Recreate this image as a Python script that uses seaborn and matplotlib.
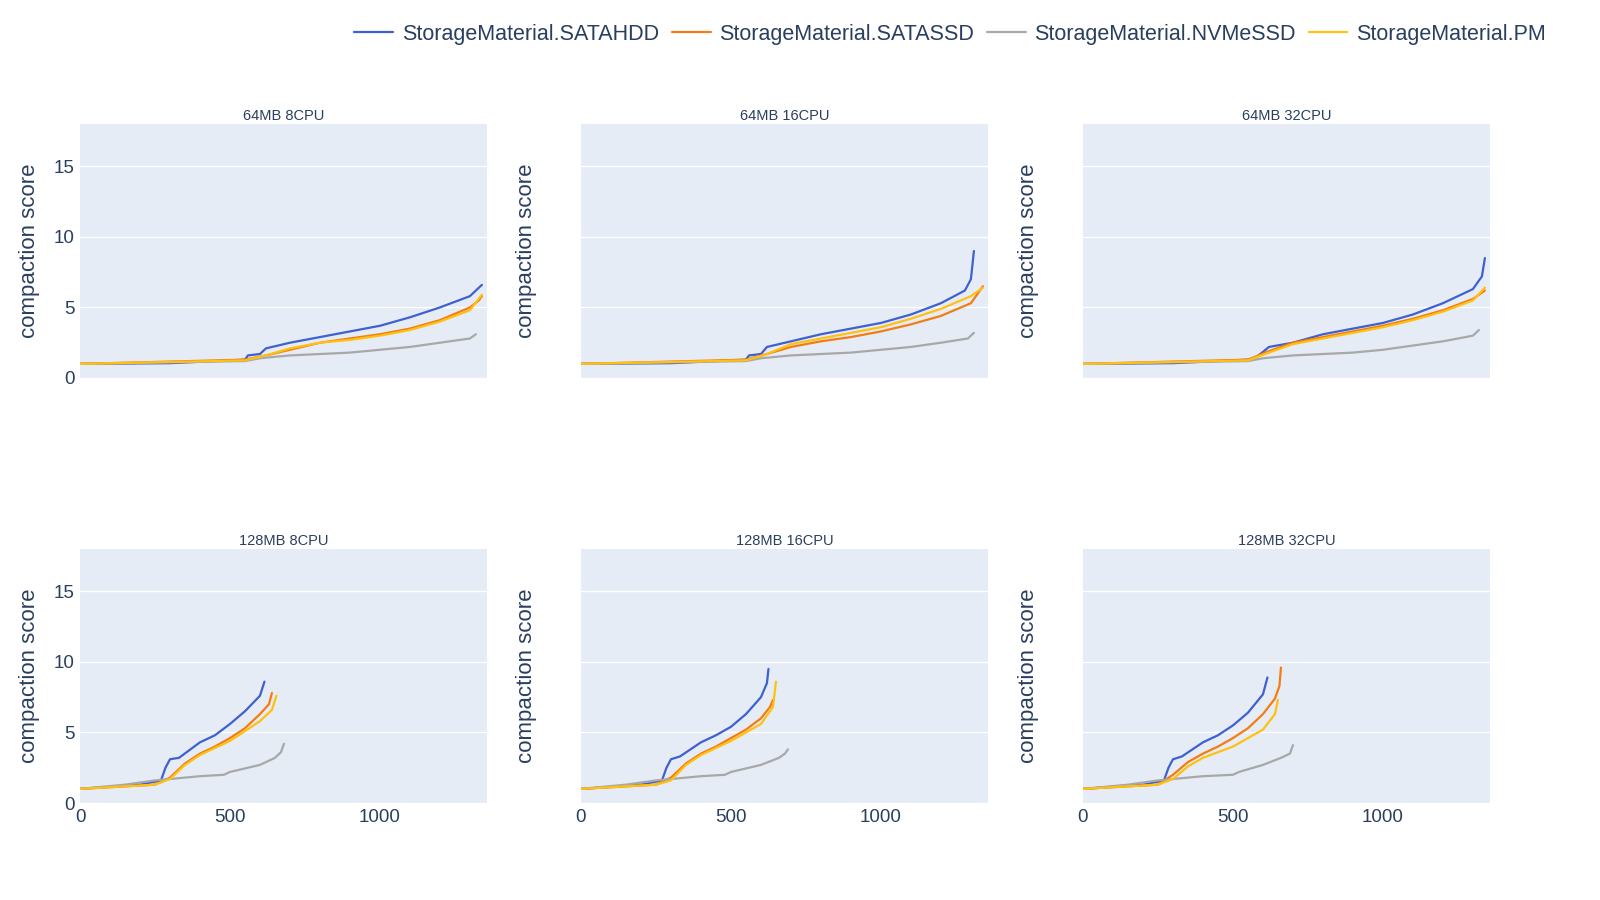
import matplotlib
matplotlib.use("Agg")
import matplotlib.pyplot as plt
import seaborn as sns
import pandas as pd

sns.set_theme(style="darkgrid")
plt.rcParams['font.family'] = ['Liberation Sans', 'DejaVu Sans']

series = ["StorageMaterial.SATAHDD", "StorageMaterial.SATASSD",
          "StorageMaterial.NVMeSSD", "StorageMaterial.PM"]
colors = ["#3f60d0", "#f57c10", "#a8a8a8", "#ffc010"]
panels = ["64MB 8CPU", "64MB 16CPU", "64MB 32CPU",
          "128MB 8CPU", "128MB 16CPU", "128MB 32CPU"]

# estimated (x, y) points of each curve per panel: [HDD, SSD, NVMe, PM]
curves = {
    "64MB 8CPU": [
        [(0,1),(300,1.05),(550,1.3),(560,1.6),(600,1.7),(620,2.1),(700,2.5),(800,2.9),(900,3.3),(1000,3.7),(1100,4.3),(1200,5.0),(1300,5.8),(1340,6.6)],
        [(0,1),(550,1.3),(620,1.6),(700,2.0),(800,2.5),(900,2.8),(1000,3.1),(1100,3.5),(1200,4.1),(1300,5.0),(1330,5.5),(1340,5.8)],
        [(0,1),(550,1.2),(600,1.4),(700,1.6),(900,1.8),(1000,2.0),(1100,2.2),(1200,2.5),(1300,2.8),(1320,3.1)],
        [(0,1),(550,1.25),(620,1.6),(700,2.1),(800,2.5),(900,2.7),(1000,3.0),(1100,3.4),(1200,4.0),(1300,4.8),(1340,5.9)],
    ],
    "64MB 16CPU": [
        [(0,1),(300,1.05),(550,1.3),(560,1.6),(600,1.7),(620,2.2),(700,2.6),(800,3.1),(900,3.5),(1000,3.9),(1100,4.5),(1200,5.3),(1280,6.2),(1300,7.0),(1310,9.0)],
        [(0,1),(550,1.3),(620,1.7),(700,2.2),(800,2.6),(900,2.9),(1000,3.3),(1100,3.8),(1200,4.4),(1300,5.3),(1340,6.5)],
        [(0,1),(550,1.2),(600,1.4),(700,1.6),(900,1.8),(1000,2.0),(1100,2.2),(1200,2.5),(1290,2.8),(1310,3.2)],
        [(0,1),(550,1.25),(620,1.7),(700,2.4),(800,2.8),(900,3.2),(1000,3.6),(1100,4.2),(1200,4.9),(1300,5.8),(1340,6.4)],
    ],
    "64MB 32CPU": [
        [(0,1),(300,1.05),(550,1.3),(580,1.5),(620,2.2),(700,2.5),(800,3.1),(900,3.5),(1000,3.9),(1100,4.5),(1200,5.3),(1300,6.3),(1330,7.2),(1340,8.5)],
        [(0,1),(550,1.3),(620,1.9),(700,2.5),(800,2.9),(900,3.3),(1000,3.7),(1100,4.2),(1200,4.8),(1300,5.6),(1340,6.2)],
        [(0,1),(550,1.2),(600,1.4),(700,1.6),(900,1.8),(1000,2.0),(1100,2.3),(1200,2.6),(1300,3.0),(1320,3.4)],
        [(0,1),(550,1.25),(620,1.8),(700,2.4),(800,2.8),(900,3.2),(1000,3.6),(1100,4.1),(1200,4.7),(1300,5.5),(1340,6.4)],
    ],
    "128MB 8CPU": [
        [(0,1),(200,1.3),(270,1.6),(285,2.5),(300,3.1),(330,3.2),(400,4.3),(450,4.8),(500,5.6),(550,6.5),(600,7.6),(615,8.6)],
        [(0,1),(250,1.3),(300,1.8),(350,2.8),(400,3.5),(450,4.0),(500,4.6),(550,5.3),(600,6.3),(630,7.0),(640,7.8)],
        [(0,1),(150,1.3),(250,1.6),(400,1.9),(480,2.0),(500,2.2),(600,2.7),(650,3.2),(670,3.6),(680,4.2)],
        [(0,1),(250,1.3),(300,1.7),(350,2.7),(400,3.4),(500,4.4),(600,5.8),(640,6.6),(655,7.6)],
    ],
    "128MB 16CPU": [
        [(0,1),(200,1.3),(270,1.6),(285,2.5),(300,3.1),(330,3.3),(400,4.3),(450,4.8),(500,5.4),(550,6.3),(600,7.5),(620,8.5),(625,9.5)],
        [(0,1),(250,1.3),(300,1.8),(350,2.8),(400,3.5),(450,4.0),(500,4.6),(550,5.2),(600,6.0),(630,6.8),(640,7.3)],
        [(0,1),(150,1.3),(250,1.6),(400,1.9),(480,2.0),(500,2.2),(600,2.7),(660,3.2),(680,3.5),(690,3.8)],
        [(0,1),(250,1.3),(300,1.6),(350,2.7),(400,3.4),(500,4.4),(600,5.6),(640,6.8),(650,8.6)],
    ],
    "128MB 32CPU": [
        [(0,1),(200,1.3),(270,1.6),(285,2.5),(300,3.1),(330,3.3),(400,4.3),(450,4.8),(500,5.5),(550,6.4),(600,7.7),(615,8.9)],
        [(0,1),(250,1.3),(300,2.0),(350,2.9),(400,3.5),(450,4.0),(500,4.6),(550,5.3),(600,6.3),(640,7.4),(655,8.3),(660,9.6)],
        [(0,1),(150,1.3),(250,1.6),(400,1.9),(500,2.0),(520,2.2),(600,2.7),(660,3.2),(690,3.5),(700,4.1)],
        [(0,1),(250,1.3),(300,1.7),(350,2.6),(400,3.2),(500,4.0),(600,5.2),(640,6.3),(650,7.3)],
    ],
}

text_col = "#2a3f5f"
fig = plt.figure(figsize=(16, 9), dpi=100)
lefts = [80, 581, 1083]
bottoms = [1 - 378 / 900, 1 - 803 / 900]
handles = None
for i, name in enumerate(panels):
    r, c = divmod(i, 3)
    ax = fig.add_axes([lefts[c] / 1600, bottoms[r], 407 / 1600, 254 / 900])
    ax.set_facecolor("#e5ecf6")
    rows = []
    for s, pts in zip(series, curves[name]):
        rows += [{"x": x, "y": y, "series": s} for x, y in pts]
    df = pd.DataFrame(rows)
    sns.lineplot(data=df, x="x", y="y", hue="series", hue_order=series,
                 palette=colors, sort=False, estimator=None, linewidth=1.6,
                 ax=ax, legend=(i == 0))
    if i == 0:
        handles, labels = ax.get_legend_handles_labels()
        ax.get_legend().remove()
    ax.set_xlim(0, 1357)
    ax.set_ylim(0, 18)
    ax.set_yticks([0, 5, 10, 15])
    ax.set_xticks([0, 500, 1000])
    ax.grid(axis="y", color="white", linewidth=1)
    ax.grid(axis="x", visible=False)
    for sp in ax.spines.values():
        sp.set_visible(False)
    ax.tick_params(length=0, labelsize=13.5, labelcolor=text_col, pad=4)
    if c != 0:
        ax.set_yticklabels([])
    if r == 0:
        ax.set_xticklabels([])
    ax.set_xlabel("")
    ax.set_ylabel("compaction score", fontsize=16, color=text_col, labelpad=28 if c else 10)
    ax.set_title(name, fontsize=10.5, color=text_col, pad=3)

fig.legend(handles, labels, loc="upper left", bbox_to_anchor=(335 / 1600, 0.995),
           ncol=4, frameon=False, fontsize=15.5, handlelength=1.8,
           columnspacing=0.6, handletextpad=0.4, labelcolor=text_col)
fig.savefig("out.png", dpi=100)
